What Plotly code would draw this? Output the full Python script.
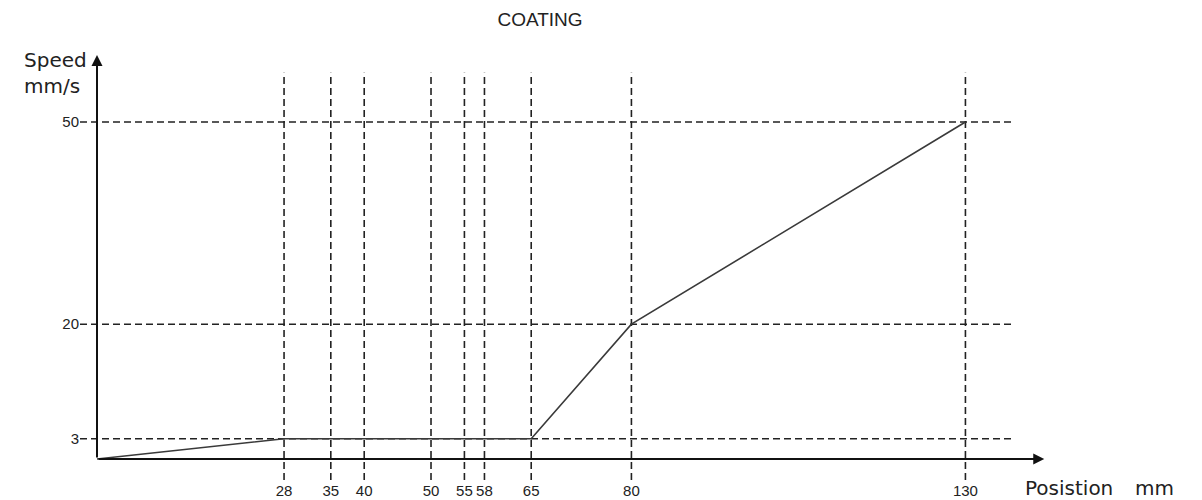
import plotly.graph_objects as go

# ---- data ----
position_marks = [28, 35, 40, 50, 55, 58, 65, 80, 130]
speed_levels = [3, 20, 50]
path_position = [0, 28, 65, 80, 130]
path_speed = [0, 3, 3, 20, 50]

# ---- geometry (page offset of 8px from default body margin) ----
OFF = 8
W, H = 1202 - OFF, 500 - OFF
L, R, T, B = 80 - OFF, 152, 50 - OFF, 20
X_RANGE = [-2.545, 142.66]
Y_RANGE = [-3.116, 60.68]
X_TIP, Y_TIP = 141.8, 59.94
HLINE_END = 137.4
VLINE_TOP = 57.3

def px_to_paper_x(px):
    return (px - OFF - L) / (W - L - R)

def px_to_paper_y(py):
    return (H - B - (py - OFF)) / (H - T - B)

fig = go.Figure()

fig.add_trace(go.Scatter(
    x=path_position, y=path_speed, mode="lines",
    line=dict(color="#3a3a3a", width=1.6),
    hoverinfo="skip", showlegend=False,
))

dash = "7px,4px"
for yv in speed_levels:
    fig.add_shape(type="line", xref="x", yref="y",
                  x0=X_RANGE[0], x1=HLINE_END, y0=yv, y1=yv,
                  line=dict(color="#222", width=1.6, dash=dash), layer="below")
for xv in position_marks:
    fig.add_shape(type="line", xref="x", yref="y",
                  x0=xv, x1=xv, y0=Y_RANGE[0], y1=VLINE_TOP,
                  line=dict(color="#222", width=1.6, dash=dash), layer="below")

# axes with arrows
fig.add_annotation(x=0, y=Y_TIP, ax=0, ay=0, xref="x", yref="y", axref="x", ayref="y",
                   text="", showarrow=True, arrowhead=2, arrowsize=1.1,
                   arrowwidth=2, arrowcolor="#111")
fig.add_annotation(x=X_TIP, y=0, ax=0, ay=0, xref="x", yref="y", axref="x", ayref="y",
                   text="", showarrow=True, arrowhead=2, arrowsize=1.1,
                   arrowwidth=2, arrowcolor="#111")

label_font = dict(family="DejaVu Sans", size=20, color="#222")
fig.add_annotation(x=px_to_paper_x(89), y=px_to_paper_y(73), xref="paper", yref="paper",
                   text="Speed<br>mm/s", showarrow=False, xanchor="right", yanchor="middle",
                   align="left", font=label_font)
fig.add_annotation(x=px_to_paper_x(1023), y=px_to_paper_y(488), xref="paper", yref="paper",
                   text="Posistion", showarrow=False, xanchor="left", yanchor="middle",
                   font=label_font)
fig.add_annotation(x=px_to_paper_x(1133), y=px_to_paper_y(488), xref="paper", yref="paper",
                   text="mm", showarrow=False, xanchor="left", yanchor="middle",
                   font=label_font)

tick_font = dict(family="Liberation Sans", size=15, color="#222")
fig.update_xaxes(range=X_RANGE, tickvals=position_marks,
                 ticktext=[str(v) for v in position_marks],
                 showgrid=False, zeroline=False, showline=False, ticks="",
                 tickfont=tick_font, fixedrange=True, automargin=False)
fig.update_yaxes(range=Y_RANGE, tickvals=speed_levels,
                 ticktext=[str(v) for v in speed_levels],
                 showgrid=False, zeroline=False, showline=False, ticks="",
                 tickfont=tick_font, fixedrange=True, automargin=False)

fig.update_layout(
    width=W, height=H,
    margin=dict(l=L, r=R, t=T, b=B, autoexpand=False),
    paper_bgcolor="white", plot_bgcolor="white",
    title=dict(text="COATING", x=(540 - OFF) / W, xanchor="center",
               y=1 - (19 - OFF) / H, yanchor="middle", yref="container",
               font=dict(family="Liberation Sans", size=19, color="#222")),
    showlegend=False,
)

fig.write_html("out.html")
